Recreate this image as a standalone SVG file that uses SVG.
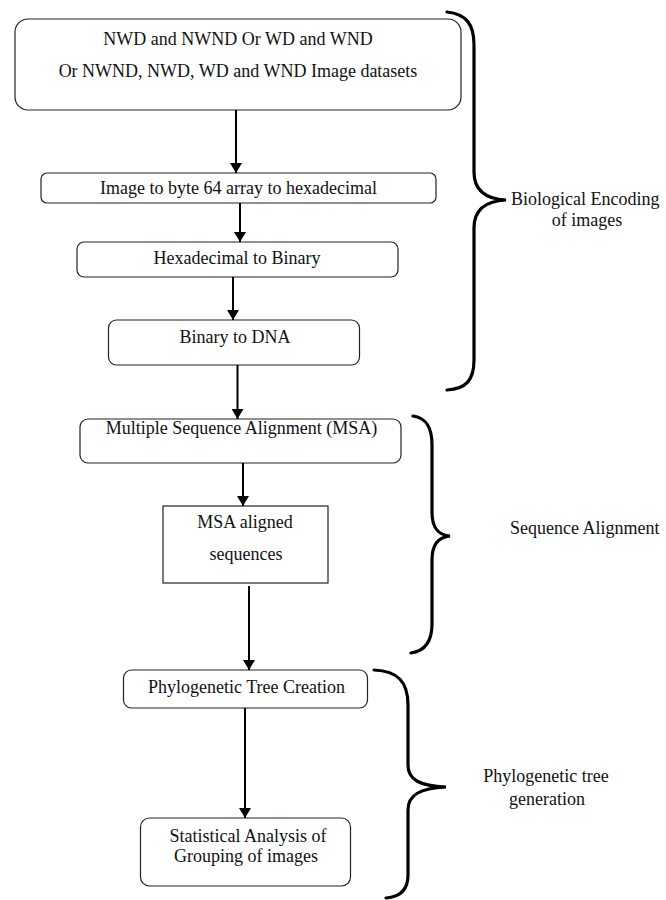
<svg xmlns="http://www.w3.org/2000/svg" width="666" height="900" viewBox="0 0 666 900">
  <style>
    .box { fill: #ffffff; stroke: #222222; stroke-width: 1.2; }
    .lbl { font-family: "Liberation Serif", "Times New Roman", serif; font-size: 18px; fill: #111111; }
    .mid { text-anchor: middle; }
    .edge { stroke: #000000; stroke-width: 2; fill: none; }
    .brace { stroke: #000000; stroke-width: 3.2; fill: none; stroke-linecap: round; }
  </style>
  <defs>
    <marker id="arrow" viewBox="0 0 10 12" refX="10" refY="6" markerWidth="10" markerHeight="12" markerUnits="userSpaceOnUse" orient="auto">
      <path d="M0,0 L10,6 L0,12 Z" fill="#000000"/>
    </marker>
  </defs>
  <rect width="666" height="900" fill="#ffffff"/>

  <!-- process steps -->
  <g id="datasets">
    <rect class="box" x="15" y="19" width="446" height="91" rx="13"/>
    <text class="lbl mid" x="238" y="45">NWD and NWND Or WD and WND</text>
    <text class="lbl mid" x="238" y="77">Or NWND, NWD, WD and WND Image datasets</text>
  </g>
  <g id="to-hex">
    <rect class="box" x="41" y="173" width="395" height="30" rx="6"/>
    <text class="lbl mid" x="238.5" y="194">Image to byte 64 array to hexadecimal</text>
  </g>
  <g id="to-binary">
    <rect class="box" x="77" y="242" width="321" height="35" rx="7"/>
    <text class="lbl mid" x="237" y="264">Hexadecimal to Binary</text>
  </g>
  <g id="to-dna">
    <rect class="box" x="108.5" y="320" width="251" height="45" rx="8"/>
    <text class="lbl mid" x="235" y="343">Binary to DNA</text>
  </g>
  <g id="msa">
    <rect class="box" x="80" y="419" width="321" height="44" rx="8"/>
    <text class="lbl mid" x="241.5" y="434">Multiple Sequence Alignment (MSA)</text>
  </g>
  <g id="aligned">
    <rect class="box" x="163" y="506" width="165" height="77"/>
    <text class="lbl mid" x="245" y="528">MSA aligned</text>
    <text class="lbl mid" x="246" y="560">sequences</text>
  </g>
  <g id="tree">
    <rect class="box" x="123.5" y="670" width="244" height="38" rx="8"/>
    <text class="lbl mid" x="246.5" y="693">Phylogenetic Tree Creation</text>
  </g>
  <g id="stats">
    <rect class="box" x="140.5" y="818" width="210" height="68" rx="9"/>
    <text class="lbl mid" x="248" y="842">Statistical Analysis of</text>
    <text class="lbl mid" x="246" y="862">Grouping of images</text>
  </g>

  <!-- flow connectors -->
  <g id="connectors">
    <line class="edge" x1="236" y1="110" x2="236" y2="173" marker-end="url(#arrow)"/>
    <line class="edge" x1="240" y1="203" x2="240" y2="242" marker-end="url(#arrow)"/>
    <line class="edge" x1="233" y1="277" x2="233" y2="320" marker-end="url(#arrow)"/>
    <line class="edge" x1="237.5" y1="365" x2="237.5" y2="419" marker-end="url(#arrow)"/>
    <line class="edge" x1="243" y1="463" x2="243" y2="506" marker-end="url(#arrow)"/>
    <line class="edge" x1="249" y1="586" x2="249" y2="670" marker-end="url(#arrow)"/>
    <line class="edge" x1="245" y1="708" x2="245" y2="818" marker-end="url(#arrow)"/>
  </g>

  <!-- stage braces and captions -->
  <g id="stage-encoding">
    <path class="brace" d="M447,12 C466,14 474,24 474,45 L474,172 C474,190 485,199 506,200 C485,201 474,210 474,228 L474,360 C474,380 466,389 447,390"/>
    <text class="lbl" x="511" y="205">Biological Encoding</text>
    <text class="lbl mid" x="587" y="226">of images</text>
  </g>
  <g id="stage-alignment">
    <path class="brace" d="M413,416 C427,418 432,428 432,445 L432,512 C432,528 438,535 450,536 C438,537 432,545 432,560 L432,624 C432,642 425,651 411,653"/>
    <text class="lbl" x="510" y="534">Sequence Alignment</text>
  </g>
  <g id="stage-tree">
    <path class="brace" d="M374,670 C398,671 408,682 408,705 L408,765 C408,780 420,786 446,787 C420,788 408,795 408,810 L408,875 C408,890 400,897 386,898"/>
    <text class="lbl mid" x="546" y="782">Phylogenetic tree</text>
    <text class="lbl mid" x="547" y="805">generation</text>
  </g>
</svg>
